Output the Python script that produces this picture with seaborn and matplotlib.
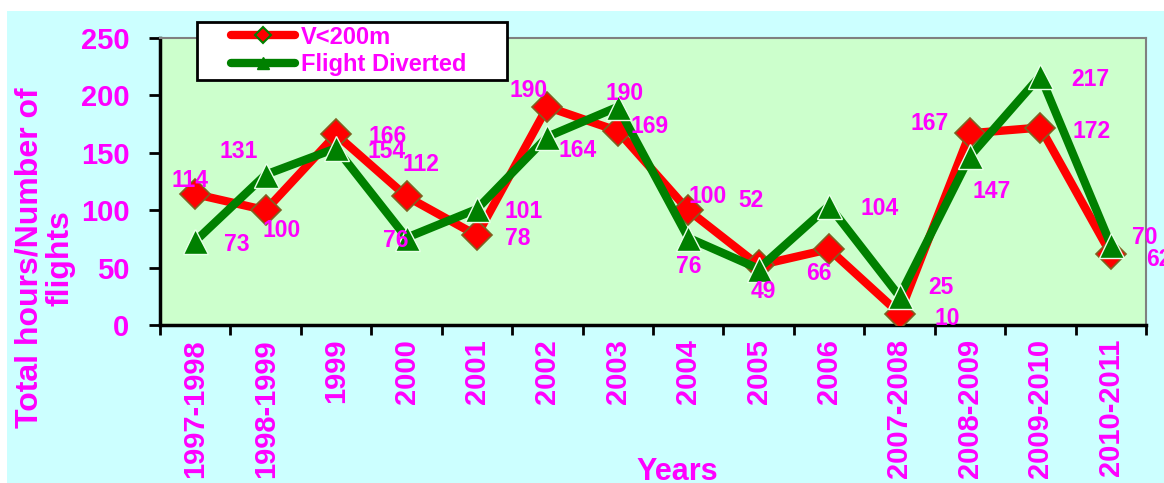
import pandas as pd
import matplotlib.pyplot as plt
import seaborn as sns
from matplotlib.lines import Line2D
from matplotlib.patches import Rectangle
from matplotlib.legend_handler import HandlerLine2D

years = ['1997-1998', '1998-1999', '1999', '2000', '2001', '2002', '2003',
         '2004', '2005', '2006', '2007-2008', '2008-2009', '2009-2010', '2010-2011']
v200 = [114, 100, 166, 112, 78, 190, 169, 100, 52, 66, 10, 167, 172, 62]
diverted = [73, 131, 154, 76, 101, 164, 190, 76, 49, 104, 25, 147, 217, 70]

# label offsets in pixels (dx, dy) from each point
v200_off = [(-5, 14), (16, -20), (52, -2), (14, 32), (41, -3), (-19, 16), (32, 4),
            (19, 14), (-8, 65), (-10, -24), (48, -5), (-40, 10), (51, -4), (48, -6)]
div_off = [(42, -3), (-27, 23), (50, -3), (-11, -3), (47, -2), (30, -14), (7, 13),
           (1, -29), (5, -23), (51, -3), (41, 9), (22, -35), (50, -4), (34, 7)]

df = pd.DataFrame({'Years': years, 'V<200m': v200, 'Flight Diverted': diverted})

sns.set_style('white')
plt.rcParams['font.family'] = ['Liberation Sans', 'DejaVu Sans']
plt.rcParams['font.weight'] = 'bold'

magenta = '#FF00FF'
red = '#FF0000'
green = '#008000'

fig = plt.figure(figsize=(11.64, 4.83), dpi=100)
fig.patch.set_facecolor('white')
fig.patches.append(Rectangle((7 / 1164, 0), 1, 1 - 11 / 483, transform=fig.transFigure,
                             facecolor='#CCFFFF', edgecolor='none', zorder=-10))
ax = fig.add_axes([160 / 1164, 1 - 325 / 483, (1146 - 160) / 1164, (325 - 38) / 483])
ax.set_facecolor('#CCFFCC')

sns.lineplot(data=df, x='Years', y='V<200m', ax=ax, color=red, linewidth=6,
             marker='D', markersize=15, markerfacecolor=red,
             markeredgecolor='#806020', markeredgewidth=1.2, zorder=3)
sns.lineplot(data=df, x='Years', y='Flight Diverted', ax=ax, color=green, linewidth=6,
             marker='^', markersize=18, markerfacecolor=green,
             markeredgecolor='#e8ffe8', markeredgewidth=1, zorder=4)

for i, (v, off) in enumerate(zip(v200, v200_off)):
    ax.annotate(str(v), xy=(i, v), xytext=off, textcoords='offset pixels',
                ha='center', va='center', color=magenta, fontsize=16.5,
                fontweight='bold', zorder=6, annotation_clip=False)
for i, (v, off) in enumerate(zip(diverted, div_off)):
    ax.annotate(str(v), xy=(i, v), xytext=off, textcoords='offset pixels',
                ha='center', va='center', color=magenta, fontsize=16.5,
                fontweight='bold', zorder=6, annotation_clip=False)

ax.set_xlim(-0.5, len(years) - 0.5)
ax.set_ylim(0, 250)
ax.set_yticks(range(0, 251, 50))
ax.set_xticks(range(len(years)))
ax.set_xticklabels(years, rotation=90)
ax.set_xticks([i - 0.5 for i in range(len(years) + 1)], minor=True)
ax.tick_params(axis='x', which='major', length=0, pad=10, labelsize=21,
               labelcolor=magenta)
ax.tick_params(axis='x', which='minor', length=7, width=2, color='black',
               direction='out', bottom=True)
ax.tick_params(axis='y', length=8, width=2, color='black', direction='out',
               left=True, pad=14, labelsize=21, labelcolor=magenta)
for lab in ax.get_xticklabels() + ax.get_yticklabels():
    lab.set_fontweight('bold')

for side in ['left', 'bottom']:
    ax.spines[side].set_color('black')
    ax.spines[side].set_linewidth(2.5)
for side in ['top', 'right']:
    ax.spines[side].set_color('#808080')
    ax.spines[side].set_linewidth(1.5)

ax.set_xlabel('')
ax.set_ylabel('')
fig.text(45 / 1164, 1 - 258 / 483, 'Total hours/Number of\nflights', rotation=90,
         ha='center', va='center', multialignment='center', color=magenta,
         fontsize=23, fontweight='bold', linespacing=1.0)
fig.text(677 / 1164, 1 - 472 / 483, 'Years', ha='center', va='center',
         color=magenta, fontsize=22, fontweight='bold')

handles = [
    Line2D([], [], color=red, linewidth=6, marker='D', markersize=8,
           markerfacecolor=red, markeredgecolor=green, markeredgewidth=1.5,
           solid_capstyle='round'),
    Line2D([], [], color=green, linewidth=6, marker='^', markersize=9,
           markerfacecolor=green, markeredgecolor=green, solid_capstyle='round'),
]
leg = fig.legend(handles, ['V<200m', 'Flight Diverted'], loc='upper left',
                 bbox_to_anchor=(197 / 1164, 1 - 79 / 483, 310 / 1164, 57 / 483),
                 bbox_transform=fig.transFigure, mode='expand',
                 frameon=True, fancybox=False, handlelength=4.0,
                 borderpad=0.15, labelspacing=0.2, handletextpad=0.25,
                 borderaxespad=0, prop={'weight': 'bold', 'size': 17},
                 handler_map={Line2D: HandlerLine2D(xpad=1.3)})
leg.get_frame().set_edgecolor('black')
leg.get_frame().set_linewidth(2)
leg.get_frame().set_facecolor('white')
leg.get_frame().set_alpha(1)
for t in leg.get_texts():
    t.set_color(magenta)
leg.set_zorder(10)

plt.savefig('out.png', dpi=100, facecolor=fig.get_facecolor())
